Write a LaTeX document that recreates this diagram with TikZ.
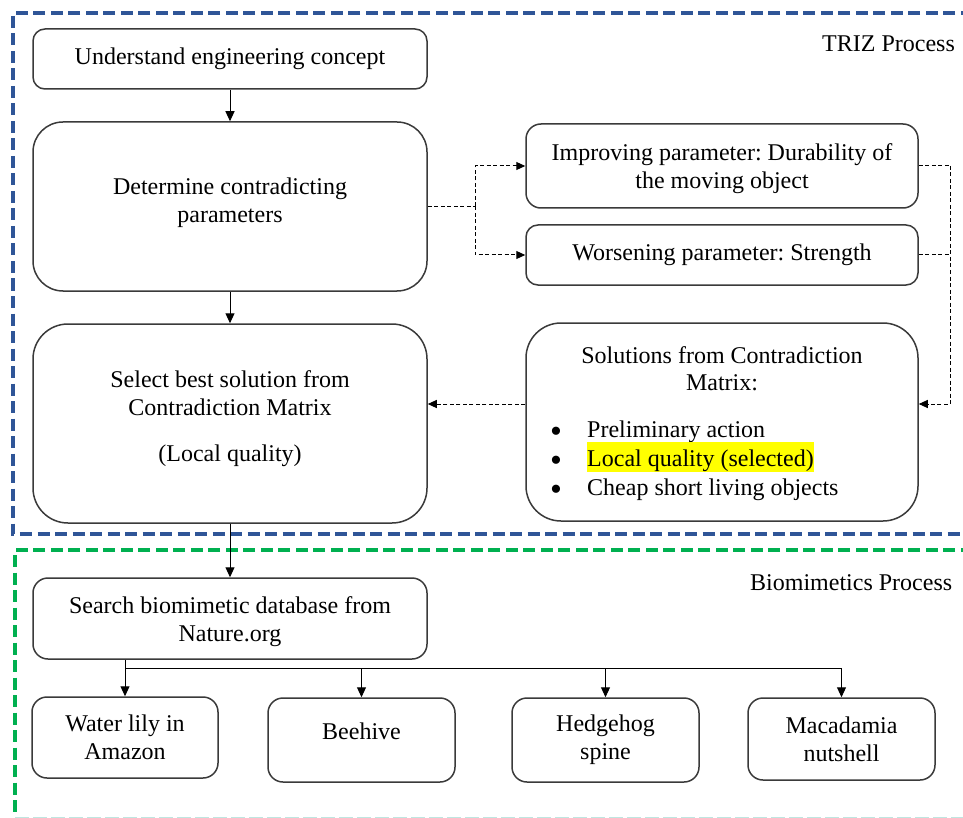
\documentclass[tikz,border=0pt]{standalone}
\usepackage{fontspec}
\setmainfont{Liberation Serif}
\usetikzlibrary{arrows.meta}
\frenchspacing

\definecolor{trizblue}{HTML}{2F5597}
\definecolor{biogreen}{HTML}{00B050}
\definecolor{edgegray}{HTML}{3A3A3A}
\definecolor{faintcyan}{HTML}{BFE6E0}
\definecolor{markyellow}{HTML}{FFFF00}

\tikzset{
  box/.style={draw=edgegray, line width=1.5pt, rounded corners=#1,
    inner sep=0pt, align=center, fill=white},
  flow/.style={line width=1pt, -{Triangle[length=10pt,width=9pt]}},
  plainline/.style={line width=1pt},
  dashline/.style={line width=1pt, dash pattern=on 4pt off 2.5pt},
  dashflow/.style={dashline, -{Triangle[length=9pt,width=8pt]}},
  frame/.style={line width=3.4pt, dash pattern=on 12pt off 5.5pt},
  txt/.style={inner sep=0pt, align=center},
  bigdot/.style={inner sep=0pt, text height=4pt, text depth=4pt,
    font=\fontsize{34}{34}\selectfont},
}

\begin{document}
\begin{tikzpicture}[x=1pt, y=-1pt, font=\fontsize{24}{28}\selectfont]
\useasboundingbox (0,0) rectangle (963,818);
\clip (0,0) rectangle (963,818);
\fill[white] (0,0) rectangle (963,818);

% process frames
\draw[frame, trizblue] (990,13) -- (13,13) -- (13,534) -- (990,534);
\draw[frame, biogreen] (990,550) -- (15,550) -- (15,815);
\draw[line width=1pt, faintcyan, dash pattern=on 14pt off 4pt] (15,817) -- (963,817);

\node[txt, anchor=base west] (trizlabel) at (822,52) {TRIZ Process};
\node[txt, anchor=base west] (biolabel) at (750,590) {Biomimetics Process};

% TRIZ steps
\node[box=12pt, minimum width=394pt, minimum height=60pt] (understand) at (230,59)
  {Understand engineering concept};
\node[box=30pt, minimum width=394pt, minimum height=169pt] (determine) at (230,206.5) {};
\node[txt] (determinetext) at ([yshift=4pt]determine.center)
  {Determine contradicting\\parameters};
\node[box=35pt, minimum width=394pt, minimum height=199pt] (select) at (230,423.5) {};
\node[txt] (selecttext) at ([yshift=5pt]select.center)
  {Select best solution from\\Contradiction Matrix\\[18pt](Local quality)};

\node[box=15pt, minimum width=392pt, minimum height=84pt] (improve) at (722,166) {};
\node[txt] (improvetext) at ([yshift=-3pt]improve.center)
  {Improving parameter: Durability of\\the moving object};
\node[box=12pt, minimum width=392pt, minimum height=60pt] (worsen) at (722,255)
  {Worsening parameter: Strength};
\node[box=35pt, minimum width=392pt, minimum height=198pt] (sol) at (722,422) {};

% contents of the solutions box
\node[txt, anchor=base] (soltitle) at (722,363) {Solutions from Contradiction};
\node[txt, anchor=base] (soltitleb) at (722,390) {Matrix:};
\node[bigdot] (dotA) at (556,442.5) {\textbullet};
\node[bigdot] (dotB) at (556,471.5) {\textbullet};
\node[bigdot] (dotC) at (556,500.5) {\textbullet};
\node[txt, anchor=base west] (optA) at (587,437) {Preliminary action};
\node[txt, anchor=base west, fill=markyellow, text height=24pt, text depth=6pt] (optB) at (587,466)
  {Local quality (selected)};
\node[txt, anchor=base west] (optC) at (587,495) {Cheap short living objects};

% biomimetics steps
\node[box=15pt, minimum width=394pt, minimum height=81pt] (search) at (230,618.5) {};
\node[txt] (searchtext) at ([yshift=-3pt]search.center)
  {Search biomimetic database from\\Nature.org};
\node[box=15pt, minimum width=186pt, minimum height=81pt] (lily) at (125,737.5)
  {Water lily in\\Amazon};
\node[box=15pt, minimum width=187pt, minimum height=84pt] (bee) at (361.5,740) {};
\node[txt] (beetext) at ([yshift=9pt]bee.center) {Beehive};
\node[box=15pt, minimum width=187pt, minimum height=84pt] (hedge) at (605.5,740)
  {Hedgehog\\spine};
\node[box=15pt, minimum width=187pt, minimum height=82pt] (nut) at (841.5,739)
  {Macadamia\\nutshell};

% main flow
\draw[flow] (understand) -- (determine);
\draw[flow] (determine) -- (select);
\draw[flow] (select) -- (search);

% contradiction parameters
\coordinate (split) at (475,206.5);
\draw[dashline] (determine.east) -- (split);
\draw[dashflow] (split) |- (improve.west);
\draw[dashflow] (split) |- (worsen.west);

\coordinate (rail) at (950,166);
\coordinate (solin) at ([yshift=18pt]sol.east);
\draw[dashline] (improve.east) -- (rail);
\draw[dashline] (worsen.east) -- (worsen.east -| rail);
\draw[dashflow] (rail) |- (solin);

\coordinate (solout) at ([yshift=18pt]sol.west);
\draw[dashflow] (solout) -- (solout -| select.east);

% search results
\coordinate (bus) at (125,668);
\draw[plainline] (search.south -| lily.north) -- (bus);
\draw[plainline] (bus) -- (bus -| nut.north);
\draw[flow] (bus) -- (lily.north);
\draw[flow] (bus -| bee.north) -- (bee.north);
\draw[flow] (bus -| hedge.north) -- (hedge.north);
\draw[flow] (bus -| nut.north) -- (nut.north);
\end{tikzpicture}
\end{document}
